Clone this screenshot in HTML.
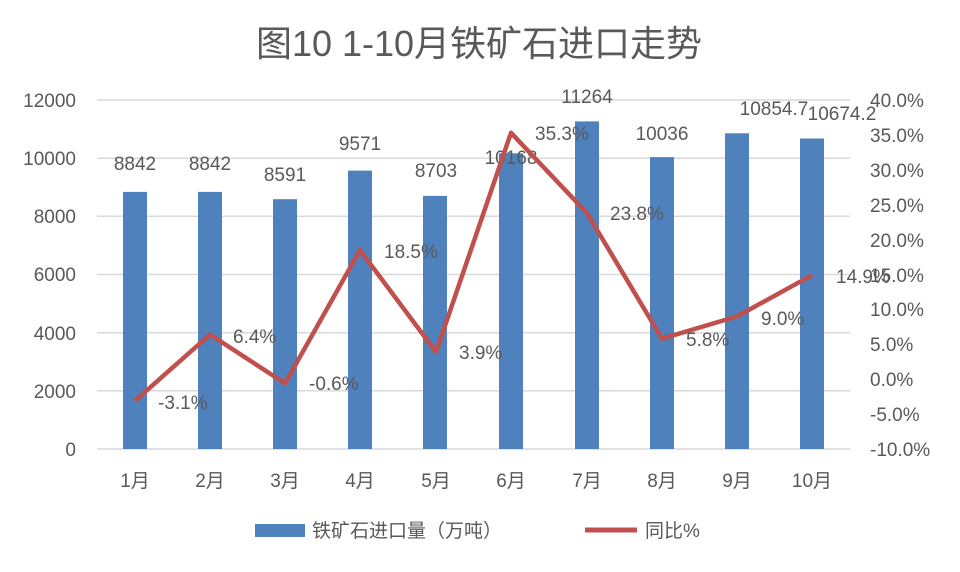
<!DOCTYPE html><html><head><meta charset="utf-8"><style>body{margin:0;background:#fff}svg{display:block}text{font-family:"Liberation Sans","Noto Sans CJK SC",sans-serif;fill:#595959}</style></head><body>
<svg width="960" height="572" viewBox="0 0 960 572">
<text x="479" y="56" font-size="36" text-anchor="middle">图10  1-10月铁矿石进口走势</text>
<g stroke="#d9d9d9" stroke-width="1.5">
<line x1="97" x2="850" y1="100" y2="100"/><line x1="97" x2="850" y1="158.2" y2="158.2"/><line x1="97" x2="850" y1="216.3" y2="216.3"/><line x1="97" x2="850" y1="274.5" y2="274.5"/><line x1="97" x2="850" y1="332.7" y2="332.7"/><line x1="97" x2="850" y1="390.8" y2="390.8"/><line x1="97" x2="850" y1="449" y2="449"/></g>
<g font-size="19" text-anchor="end">
<text x="76" y="107">12000</text><text x="76" y="165">10000</text><text x="76" y="223">8000</text><text x="76" y="281">6000</text><text x="76" y="340">4000</text><text x="76" y="398">2000</text><text x="76" y="456">0</text></g>
<g font-size="19">
<text x="870" y="107">40.0%</text><text x="870" y="142">35.0%</text><text x="870" y="177">30.0%</text><text x="870" y="212">25.0%</text><text x="870" y="247">20.0%</text><text x="870" y="282">15.0%</text><text x="870" y="316">10.0%</text><text x="870" y="351">5.0%</text><text x="870" y="386">0.0%</text><text x="870" y="421">-5.0%</text><text x="870" y="456">-10.0%</text></g>
<g fill="#4f81bd">
<rect x="123" y="191.9" width="24" height="257.1"/><rect x="198" y="191.9" width="24" height="257.1"/><rect x="273" y="199.2" width="24" height="249.8"/><rect x="348" y="170.6" width="24" height="278.4"/><rect x="423" y="195.9" width="24" height="253.1"/><rect x="499" y="153.3" width="24" height="295.7"/><rect x="575" y="121.4" width="24" height="327.6"/><rect x="650" y="157.1" width="24" height="291.9"/><rect x="725" y="133.3" width="24" height="315.7"/><rect x="800" y="138.5" width="24" height="310.5"/></g>
<g font-size="19" text-anchor="middle">
<text x="135" y="170">8842</text><text x="210" y="170">8842</text><text x="285" y="181">8591</text><text x="360" y="150">9571</text><text x="436" y="177">8703</text><text x="511" y="164">10168</text><text x="587" y="103">11264</text><text x="662" y="140">10036</text><text x="774" y="115">10854.7</text><text x="842" y="120">10674.2</text></g>
<polyline fill="none" stroke="#c0504d" stroke-width="4.5" stroke-linejoin="round" points="135,400.8 210,334.5 285,383.4 360,250.1 436,352 511,132.8 587,213.1 662,338.7 737,316.4 812,275.2"/>
<g font-size="19">
<text x="158" y="409">-3.1%</text><text x="233" y="343">6.4%</text><text x="309" y="390">-0.6%</text><text x="384" y="258">18.5%</text><text x="459" y="359">3.9%</text><text x="535" y="140">35.3%</text><text x="610" y="220">23.8%</text><text x="686" y="346">5.8%</text><text x="761" y="325">9.0%</text><text x="836" y="283">14.9%</text></g>
<g font-size="19" text-anchor="middle">
<text x="135" y="487">1月</text><text x="210" y="487">2月</text><text x="285" y="487">3月</text><text x="360" y="487">4月</text><text x="436" y="487">5月</text><text x="511" y="487">6月</text><text x="587" y="487">7月</text><text x="662" y="487">8月</text><text x="737" y="487">9月</text><text x="812" y="487">10月</text></g>
<rect x="255" y="524" width="50" height="13" fill="#4f81bd"/>
<text x="312" y="537" font-size="19">铁矿石进口量（万吨）</text>
<line x1="585" x2="637" y1="530" y2="530" stroke="#c0504d" stroke-width="5"/>
<text x="645" y="537" font-size="19">同比%</text>
</svg></body></html>
